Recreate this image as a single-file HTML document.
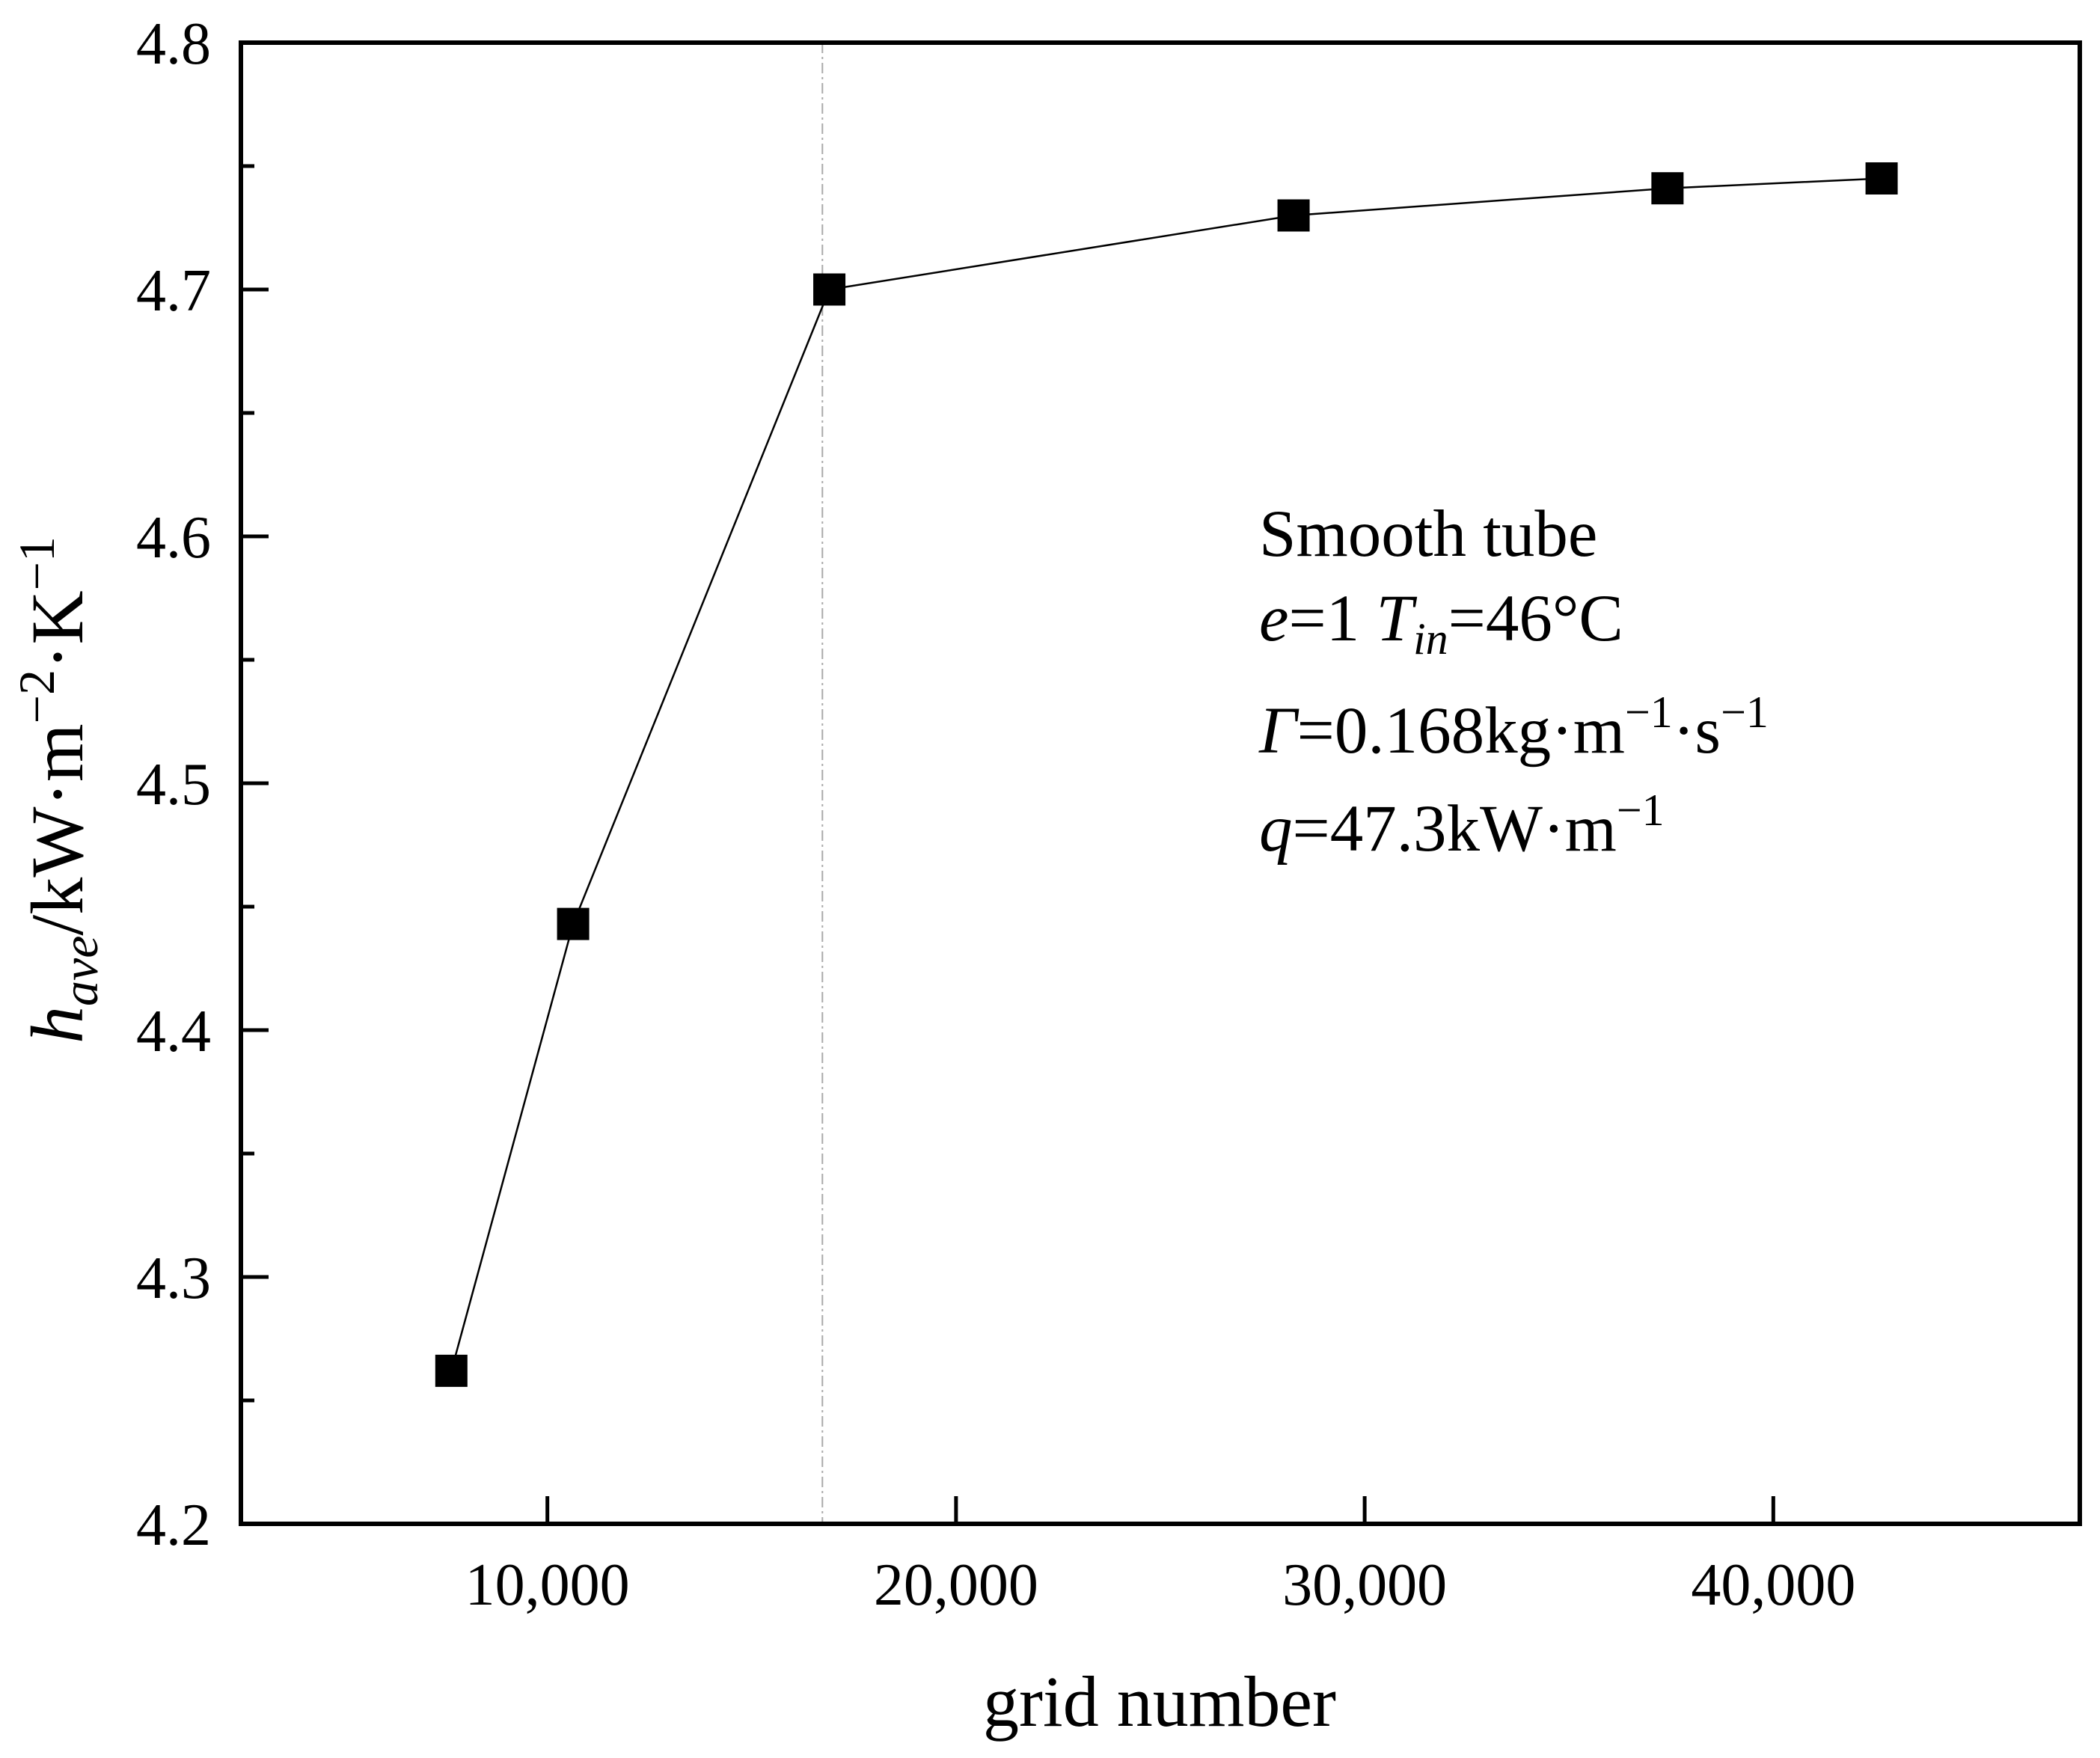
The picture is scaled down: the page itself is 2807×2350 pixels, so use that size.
<!DOCTYPE html>
<html><head><meta charset="utf-8"><style>
body{margin:0;background:#fff}
svg{display:block;font-family:"Liberation Serif","DejaVu Serif",serif}
</style></head><body>
<svg id="chart" xmlns="http://www.w3.org/2000/svg" width="2807" height="2350" viewBox="0 0 2807 2350">
<rect width="2807" height="2350" fill="#fff"/>
<g id="grid"></g>
<g id="series"></g>
<g id="axes"></g>
<text x="1550" y="2307" font-size="96" text-anchor="middle">grid number</text>
<text transform="translate(110,1056) rotate(-90)" font-size="100" text-anchor="middle"><tspan font-style="italic">h</tspan><tspan font-style="italic" font-size="68" dy="20">ave</tspan><tspan dy="-20">/kW·m</tspan><tspan font-size="68" dy="-38">−2</tspan><tspan dy="38">·K</tspan><tspan font-size="68" dy="-38">−1</tspan></text>
<g font-size="89">
<text x="1683" y="743">Smooth tube</text>
<text x="1683" y="856"><tspan font-style="italic">e</tspan>=1 <tspan font-style="italic">T</tspan><tspan font-style="italic" font-size="60" dy="18">in</tspan><tspan dy="-18">=46°C</tspan></text>
<text x="1683" y="1006"><tspan font-style="italic">Γ</tspan>=0.168kg·m<tspan font-size="60" dy="-34">−1</tspan><tspan dy="34">·s</tspan><tspan font-size="60" dy="-34">−1</tspan></text>
<text x="1683" y="1137"><tspan font-style="italic">q</tspan>=47.3kW·m<tspan font-size="60" dy="-34">−1</tspan></text>
</g>
</svg>
<script>
const gridNumbers=[7650,10630,16900,28260,37410,42650];
const hAve=[4.262,4.443,4.700,4.730,4.741,4.745];
const xTicks=[10000,20000,30000,40000];
const xTickLabels=["10,000","20,000","30,000","40,000"];
const yTicks=[4.2,4.3,4.4,4.5,4.6,4.7,4.8];
const yTickLabels=["4.2","4.3","4.4","4.5","4.6","4.7","4.8"];
const refLineX=[16730];

const L=322,R=2780,T=57,B=2037,XMIN=2500,XMAX=47500,YMIN=4.2,YMAX=4.8;
const sx=v=>L+(v-XMIN)/(XMAX-XMIN)*(R-L);
const sy=v=>B-(v-YMIN)/(YMAX-YMIN)*(B-T);
const NS="http://www.w3.org/2000/svg";
function mk(tag,attrs,parent){const e=document.createElementNS(NS,tag);for(const k in attrs)e.setAttribute(k,attrs[k]);parent.appendChild(e);return e;}
const grid=document.getElementById('grid'),series=document.getElementById('series'),axes=document.getElementById('axes');

refLineX.forEach(v=>{
 const l=mk('line',{x1:sx(v),x2:sx(v),y1:T,y2:B,stroke:'#aaa','stroke-width':2,'stroke-dasharray':'14,5,3,5'},grid);
 
 
});

const pts=gridNumbers.map((g,i)=>sx(g)+','+sy(hAve[i])).join(' ');
const pl=mk('polyline',{points:pts,fill:'none',stroke:'#000','stroke-width':2.5},series);


gridNumbers.forEach((g,i)=>{
 const s=43;
 const r=mk('rect',{x:sx(g)-s/2,y:sy(hAve[i])-s/2,width:s,height:s,fill:'#000'},series);
 
 
});

const frame=mk('rect',{x:L,y:T,width:R-L,height:B-T,fill:'none',stroke:'#000','stroke-width':6},axes);



yTicks.forEach((v,i)=>{
 const y=sy(v);
 const t=mk('line',{x1:L,x2:L+37,y1:y,y2:y,stroke:'#000','stroke-width':5},axes);
 
 
 const lb=mk('text',{x:282,y:y+28,'font-size':80,'text-anchor':'end'},axes);
 lb.textContent=yTickLabels[i];
 
 
 if(i<yTicks.length-1){
  const ym=sy(v+0.05);
  const m=mk('line',{x1:L,x2:L+18,y1:ym,y2:ym,stroke:'#000','stroke-width':5},axes);
  
  
 }
});
xTicks.forEach((v,i)=>{
 const x=sx(v);
 const t=mk('line',{x1:x,x2:x,y1:B,y2:B-37,stroke:'#000','stroke-width':5},axes);
 
 
 const lb=mk('text',{x:x,y:2145,'font-size':80,'text-anchor':'middle'},axes);
 lb.textContent=xTickLabels[i];
 
 
});
</script>
</body></html>
